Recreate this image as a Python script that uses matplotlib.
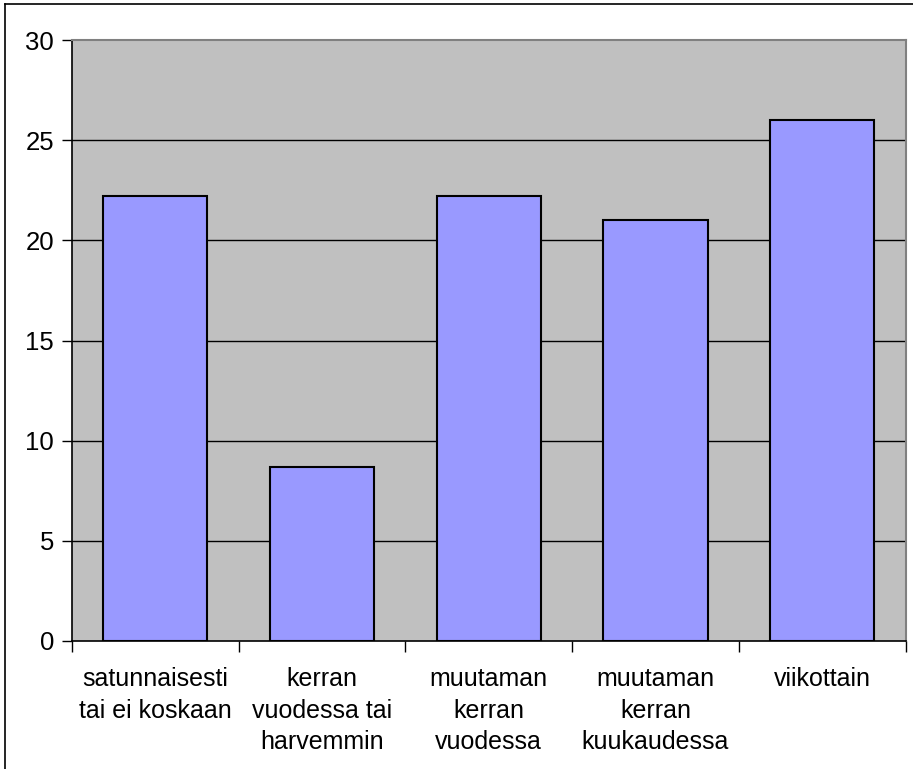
import matplotlib
matplotlib.use("Agg")
import matplotlib.pyplot as plt
from matplotlib.lines import Line2D
import numpy as np

categories = ["satunnaisesti\ntai ei koskaan", "kerran\nvuodessa tai\nharvemmin",
              "muutaman\nkerran\nvuodessa", "muutaman\nkerran\nkuukaudessa", "viikottain"]
values = [22.2, 8.7, 22.2, 21.0, 26.0]
yticks = [0, 5, 10, 15, 20, 25, 30]

plt.rcParams['font.family'] = ['Liberation Sans', 'DejaVu Sans']

W, H = 913, 769
fig = plt.figure(figsize=(W/100, H/100), dpi=100)
fig.patch.set_facecolor('white')
ax = fig.add_axes([72/W, 1-641/H, (905.5-72)/W, (641-40)/H])
ax.set_facecolor('#C0C0C0')

x = np.arange(len(categories))
ax.bar(x, values, width=0.625, color='#9999FF', edgecolor='black', linewidth=1.5, zorder=3)

ax.set_xlim(-0.5, len(categories)-0.5)
ax.set_ylim(0, 30)
ax.set_yticks(yticks)
ax.set_yticklabels([str(t) for t in yticks], fontsize=18.5)
for t in yticks[1:-1]:
    ax.axhline(t, color='black', linewidth=1, zorder=1)

ax.set_xticks(x)
ax.set_xticklabels(categories, fontsize=18, linespacing=1.38)
ax.tick_params(axis='x', which='major', length=0, pad=19)
ax.set_xticks(np.arange(-0.5, len(categories), 1.0), minor=True)
ax.tick_params(axis='x', which='minor', length=8, width=1, color='black', direction='out')
ax.tick_params(axis='y', length=7, width=1, color='black', direction='out', pad=6)

ax.spines['left'].set_color('black')
ax.spines['bottom'].set_color('black')
ax.spines['left'].set_linewidth(1.2)
ax.spines['bottom'].set_linewidth(1.2)
ax.spines['top'].set_color('#808080')
ax.spines['right'].set_color('#808080')
ax.spines['top'].set_linewidth(1.5)
ax.spines['right'].set_linewidth(1.5)

# figure border (left and top visible)
fig.add_artist(Line2D([5/W, 5/W], [0, 1-4/H], color='black', linewidth=1.2, transform=fig.transFigure))
fig.add_artist(Line2D([5/W, 1], [1-4/H, 1-4/H], color='black', linewidth=1.2, transform=fig.transFigure))

fig.savefig('out.png', dpi=100, facecolor='white')
